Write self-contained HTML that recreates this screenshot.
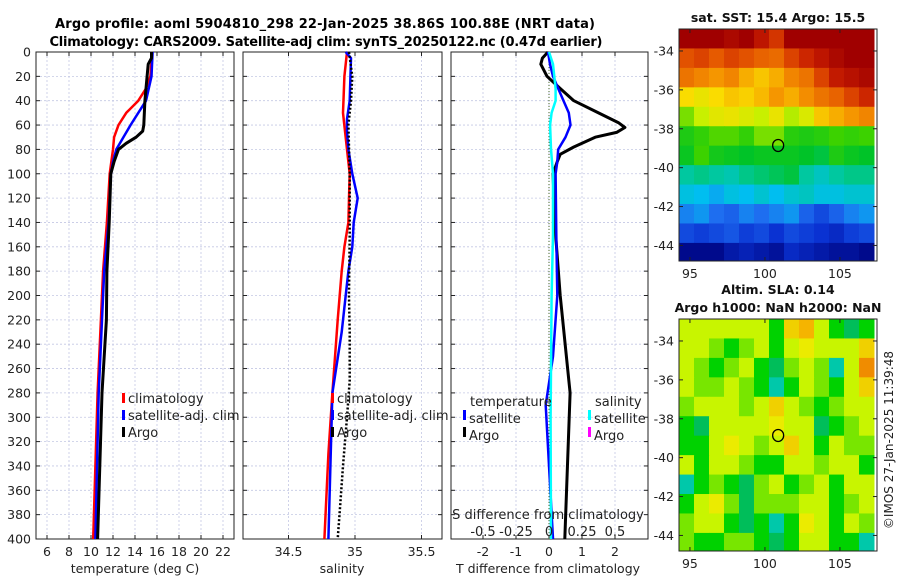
<!DOCTYPE html>
<html><head><meta charset="utf-8">
<style>
html,body{margin:0;padding:0;background:#fff;}
svg{display:block;font-family:"DejaVu Sans","Liberation Sans",sans-serif;}
</style></head>
<body>
<svg id="fig" width="900" height="580" viewBox="0 0 900 580" xmlns="http://www.w3.org/2000/svg">
<text x="325" y="28" text-anchor="middle" font-size="13" font-weight="bold" textLength="540">Argo profile: aoml 5904810_298 22-Jan-2025 38.86S 100.88E (NRT data)</text>
<text x="326" y="46" text-anchor="middle" font-size="13" font-weight="bold" textLength="553">Climatology: CARS2009. Satellite-adj clim: synTS_20250122.nc (0.47d earlier)</text>
<g id="layer"></g>
</svg>
<script>
// ---------- data ----------
const depthTicks = [0,20,40,60,80,100,120,140,160,180,200,220,240,260,280,300,320,340,360,380,400];
const tTicks = [6,8,10,12,14,16,18,20,22];
const sTicks = [34.5,35,35.5];
const dTTicks = [-2,-1,0,1,2];
const dSTickLabels = ["-0.5","-0.25","0","0.25","0.5"];
const dSTicks = [-0.5,-0.25,0,0.25,0.5];

const tClimDepth = [0,20,30,40,50,60,70,80,100,140,180,220,280,400];
const tClim      = [15.55,15.4,15.0,14.3,13.2,12.5,12.1,12.0,11.7,11.45,11.1,10.9,10.6,10.2];
const tSatDepth  = [0,20,40,60,80,90,100,140,180,220,280,400];
const tSat       = [15.6,15.5,15.0,13.6,12.3,12.0,11.8,11.6,11.2,11.0,10.7,10.4];
const tArgoDepth = [0,5,10,20,40,60,65,70,75,80,90,100,140,180,220,280,400];
const tArgo      = [15.5,15.5,15.2,15.1,14.9,14.8,14.7,14.1,13.2,12.5,12.1,11.8,11.65,11.45,11.4,11.0,10.6];

const sClimDepth = [0,20,50,80,100,120,140,160,180,220,280,330,400];
const sClim      = [34.94,34.92,34.91,34.94,34.96,34.955,34.95,34.92,34.90,34.87,34.83,34.80,34.77];
const sSatDepth  = [0,5,40,55,65,80,100,120,140,160,180,200,230,280,400];
const sSat       = [34.93,34.97,34.96,34.94,34.94,34.95,34.98,35.02,34.99,34.98,34.95,34.93,34.90,34.83,34.80];
const sArgoDepth = [0,20,40,60,100,150,200,230,270,300,340,370,400];
const sArgo      = [34.955,34.98,34.97,34.95,34.96,34.96,34.955,34.96,34.96,34.94,34.91,34.89,34.87];

const dTArgoDepth = [0,5,10,20,30,40,50,58,62,66,70,78,84,90,100,150,200,280,400];
const dTArgo      = [-0.03,-0.2,-0.25,-0.06,0.34,0.75,1.5,2.1,2.3,2.05,1.4,0.75,0.34,0.25,0.12,0.2,0.34,0.64,0.48];
const dTSatDepth  = [0,10,20,30,40,50,60,70,80,90,100,150,200,250,290,400];
const dTSat       = [-0.03,0.03,0.12,0.28,0.44,0.6,0.65,0.5,0.28,0.25,0.2,0.22,0.25,0.12,-0.1,0.12];
const dSSatDepth  = [0,10,30,40,50,60,80,100,150,200,300,400];
const dSSat       = [0.0,0.03,0.05,0.05,0.02,0.008,0.015,0.03,0.03,0.02,0.012,0.015];

// SST map (rows north->south, 1 deg each from -32.87; cols 1 deg from 94.27)
const sstRows = [
 [19,19,19,18.8,19,18.5,18,19,19,19,19,19,19],
 [17.6,17.8,17.5,17.8,17.6,17.4,17.3,17.8,18.2,18.5,18.8,19,19],
 [17.2,17,16.8,17,16.6,16.4,16.6,17,17.2,17.8,18.4,18.6,18.8],
 [16.2,16,16.2,16.4,16.3,16.5,16.8,16.6,16.9,17.2,17.4,17.8,18.2],
 [15.2,15.6,15.9,16,15.8,15.6,16,15.5,15.8,16.4,16.6,16.8,17],
 [14.6,14.8,15,15,14.8,15.2,15.2,14.7,14.6,14.7,14.9,14.8,14.9],
 [14.4,14.9,14.5,14.4,14.3,14.4,14.4,14.4,14.3,14.2,14.6,14.4,14.3],
 [13.8,13.9,13.8,13.7,13.9,14.0,14.1,14.2,13.8,13.6,13.8,13.9,13.9],
 [13.4,13.3,13.2,13.4,13.3,13.5,13.3,13.5,13.6,13.4,13.4,13.5,13.5],
 [13.0,13.1,12.9,12.8,13.0,12.9,13.0,13.1,12.8,12.6,12.8,13.0,13.1],
 [12.6,12.5,12.6,12.7,12.5,12.6,12.4,12.6,12.5,12.4,12.3,12.5,12.6],
 [11.9,11.9,11.9,12.1,12.2,12.1,12.0,12.3,12.2,12.1,12.0,12.0,11.9]
];
const slaRows = [
 [0.05,0.05,0.05,0.05,0.05,0.05,-0.05,0.15,0.2,0.05,-0.05,-0.1,-0.05],
 [0.05,0.05,0.0,-0.05,0.0,0.05,-0.05,0.05,0.1,0.05,0.05,0.05,0.15],
 [0.05,0.0,-0.05,0.0,0.05,-0.05,-0.1,0.0,0.05,0.0,-0.15,0.05,0.25],
 [0.05,0.0,0.0,0.05,0.0,-0.05,-0.15,-0.05,0.05,0.0,-0.05,0.05,0.15],
 [0.0,0.05,0.05,0.05,0.0,0.05,0.15,0.05,0.0,-0.05,0.0,0.05,0.05],
 [-0.05,-0.1,0.05,0.05,0.05,0.05,0.1,0.05,0.05,-0.1,-0.05,0.0,0.05],
 [-0.05,-0.05,0.05,0.1,0.05,0.0,0.05,0.15,0.05,-0.05,0.05,0.0,0.0],
 [0.05,-0.05,0.05,0.05,0.0,-0.05,-0.05,0.05,0.05,0.0,0.05,0.05,-0.05],
 [-0.15,-0.05,0.0,-0.05,-0.1,0.0,0.05,-0.05,0.0,0.05,-0.05,0.05,0.05],
 [-0.05,0.05,0.1,0.0,-0.1,0.0,0.0,0.0,0.05,0.05,-0.05,0.0,0.05],
 [0.0,0.05,0.05,-0.05,-0.1,-0.05,-0.15,-0.05,0.1,0.05,-0.05,0.05,0.0],
 [0.0,-0.05,-0.05,0.0,0.0,-0.05,-0.1,-0.05,0.05,0.05,-0.05,-0.05,-0.15]
];
const latTicks = [-34,-36,-38,-40,-42,-44];
const lonTicks = [95,100,105];
const argoLon = 100.88, argoLat = -38.86;

// ---------- drawing ----------
const NS='http://www.w3.org/2000/svg';
const L=document.getElementById('layer');
function mk(tag,attrs,parent){const e=document.createElementNS(NS,tag);for(const k in attrs)e.setAttribute(k,attrs[k]);(parent||L).appendChild(e);return e;}
function txt(x,y,s,size,anchor,parent){const t=mk('text',{x:x,y:y,'font-size':size,'text-anchor':anchor||'middle',fill:'#222'},parent);t.textContent=s;return t;}

const Y0=52,Y1=539;
const yD=d=>Y0+(d/400)*(Y1-Y0);
const xT=v=>47+(v-6)*11;
const xS=v=>355+(v-35)*133;
const xDT=v=>549+v*33;
const xDS=v=>549+v*132;

function panel(name,x0,x1,gridX){
  const g=mk('g',{});
  
  
  gridX.forEach(x=>mk('line',{x1:x,x2:x,y1:Y0,y2:Y1,stroke:'#c4c8e4','stroke-width':0.8,'stroke-dasharray':'2,2'},g));
  depthTicks.forEach(d=>{const y=yD(d);
    mk('line',{x1:x0,x2:x1,y1:y,y2:y,stroke:'#c4c8e4','stroke-width':0.8,'stroke-dasharray':'2,2'},g);
    mk('line',{x1:x0,x2:x0+4,y1:y,y2:y,stroke:'#222','stroke-width':1},g);
    mk('line',{x1:x1-4,x2:x1,y1:y,y2:y,stroke:'#222','stroke-width':1},g);});
  gridX.forEach(x=>{mk('line',{x1:x,x2:x,y1:Y0,y2:Y0+4,stroke:'#222'},g);mk('line',{x1:x,x2:x,y1:Y1-4,y2:Y1,stroke:'#222'},g);});
  mk('rect',{x:x0,y:Y0,width:x1-x0,height:Y1-Y0,fill:'none',stroke:'#222','stroke-width':1},g);
  return g;
}
function line(g,name,depths,vals,xf,color,w,dash){
  const pts=depths.map((d,i)=>xf(vals[i]).toFixed(1)+','+yD(d).toFixed(1)).join(' ');
  const p=mk('polyline',{points:pts,fill:'none',stroke:color,'stroke-width':w,'stroke-linejoin':'round'},g);
  if(dash)p.setAttribute('stroke-dasharray',dash);
  
  
}
depthTicks.forEach(d=>{txt(31,yD(d)+4.5,String(d),12.5,'end');});

// Panel 1
const p1=panel('temperature-panel',36,234,tTicks.map(xT));
tTicks.forEach(v=>txt(xT(v),556,String(v),12.5));
txt(135,573,'temperature (deg C)',12.5);
line(p1,'temp-climatology-line',tClimDepth,tClim,xT,'#ff0000',2.5);
line(p1,'temp-satellite-line',tSatDepth,tSat,xT,'#0000ff',2.5);
line(p1,'temp-argo-line',tArgoDepth,tArgo,xT,'#000000',3);
function legend(g,x,items){items.forEach((it,i)=>{const y=401+i*17;
  mk('rect',{x:x,y:y-8,width:3,height:10,fill:it[1]},g);
  const t=txt(x+6,y+2,it[0],13,'start',g);
  });}
legend(p1,122,[['climatology','#ff0000'],['satellite-adj. clim','#0000ff'],['Argo','#000']]);

// Panel 2
const p2=panel('salinity-panel',243,442,sTicks.map(xS));
sTicks.forEach(v=>txt(xS(v),556,String(v),12.5));
txt(342,573,'salinity',12.5);
line(p2,'sal-climatology-line',sClimDepth,sClim,xS,'#ff0000',2.5);
line(p2,'sal-satellite-line',sSatDepth,sSat,xS,'#0000ff',2.5);
line(p2,'sal-argo-line',sArgoDepth,sArgo,xS,'#000000',2.5,'2,2');
legend(p2,331,[['climatology','#ff0000'],['satellite-adj. clim','#0000ff'],['Argo','#000']]);

// Panel 3
const p3=panel('difference-panel',451,648,[-3,-2,-1,0,1,2,3].map(xDT).filter(x=>x>452&&x<647));
dTTicks.forEach(v=>txt(xDT(v),556,String(v),12.5));
txt(548,573,'T difference from climatology',12.5);
mk('line',{x1:xDT(0),x2:xDT(0),y1:Y0,y2:Y1,stroke:'#4a6a2a','stroke-width':1,'stroke-dasharray':'1,2'},p3);
line(p3,'dT-argo-line',dTArgoDepth,dTArgo,xDT,'#000000',3);
line(p3,'dT-satellite-line',dTSatDepth,dTSat,xDT,'#0000ff',2.5);
line(p3,'dS-satellite-line',dSSatDepth,dSSat,xDS,'#00ffff',2.5);
txt(470,406,'temperature',13,'start',p3);
txt(595,406,'salinity',13,'start',p3);
[['satellite','#0000ff',470],['Argo','#000',470],['satellite','#00ffff',595],['Argo','#ff00ff',595]].forEach((it,i)=>{
  const y=418+(i%2)*17;mk('rect',{x:it[2]-7,y:y-8,width:3,height:10,fill:it[1]},p3);
  const t=txt(it[2]-1,y+5,it[0],13,'start',p3);
  });
txt(548,519,'S difference from climatology',13,'middle',p3);
dSTicks.forEach((v,i)=>txt(xDS(v),536,dSTickLabels[i],13,'middle',p3));

// colour maps
function rgb(a){return 'rgb('+a.join(',')+')';}
function interp(stops,v){
  if(v<=stops[0][0])return rgb(stops[0][1]);
  for(let i=1;i<stops.length;i++){if(v<=stops[i][0]){const a=stops[i-1],b=stops[i];const f=(v-a[0])/(b[0]-a[0]);
    return rgb([0,1,2].map(k=>Math.round(a[1][k]+(b[1][k]-a[1][k])*f)));}}
  return rgb(stops[stops.length-1][1]);
}
const sstStops=[[11.9,[0,10,140]],[12.4,[10,50,210]],[12.9,[30,110,240]],[13.3,[0,190,240]],[13.8,[0,200,160]],[14.3,[0,195,40]],[14.9,[60,210,0]],[15.6,[200,240,0]],[16.2,[250,220,0]],[16.8,[245,150,0]],[17.5,[230,90,0]],[18.3,[200,30,0]],[19,[160,0,0]]];
const slaStops=[[-0.15,[0,200,170]],[-0.1,[0,190,90]],[-0.05,[0,210,0]],[0,[120,230,0]],[0.05,[200,245,0]],[0.1,[235,235,0]],[0.2,[245,180,0]],[0.25,[240,140,0]]];

function map(name,top,bot,rows,stops,labelLines){
  const x0=679,x1=877;
  const g=mk('g',{});
  
  
  const lonX=v=>x0+(v-94.27)*15;
  const latY=v=>top+(-32.87-v)*(bot-top)/(44.8-32.87);
  rows.forEach((row,r)=>row.forEach((v,c)=>{
    const xa=lonX(94.27+c),xb=Math.min(lonX(94.27+c+1),x1),ya=latY(-32.87-r),yb=Math.min(latY(-32.87-r-1),bot);
    const cell=mk('rect',{x:xa,y:ya,width:xb-xa+0.5,height:yb-ya+0.5,fill:interp(stops,v)},g);
    
    
  }));
  mk('rect',{x:x0,y:top,width:x1-x0,height:bot-top,fill:'none',stroke:'#222'},g);
  latTicks.forEach(v=>{const y=latY(v);mk('line',{x1:x0,x2:x0+4,y1:y,y2:y,stroke:'#222'},g);mk('line',{x1:x1-4,x2:x1,y1:y,y2:y,stroke:'#222'},g);txt(674,y+4.5,String(v),12.5,'end',g);});
  lonTicks.forEach(v=>{const x=lonX(v);mk('line',{x1:x,x2:x,y1:bot-4,y2:bot,stroke:'#222'},g);mk('line',{x1:x,x2:x,y1:top,y2:top+4,stroke:'#222'},g);txt(x,bot+17,String(v),12.5,'middle',g);});
  const c=mk('ellipse',{cx:lonX(argoLon),cy:latY(argoLat),rx:5.5,ry:6,fill:'none',stroke:'#000','stroke-width':1.3},g);
  
  
  labelLines.forEach(s=>{const t=mk('text',{x:778,y:s[1],'text-anchor':'middle','font-size':12.5,'font-weight':'bold',fill:'#111'},g);t.textContent=s[0];});
}
map('sst-map',29,261,sstRows,sstStops,[['sat. SST: 15.4 Argo: 15.5',22]]);
map('sla-map',319,551,slaRows,slaStops,[['Altim. SLA: 0.14',294],['Argo h1000: NaN h2000: NaN',312]]);
const cp=mk('text',{x:0,y:0,'font-size':12,'text-anchor':'middle',fill:'#222',transform:'translate(893,440) rotate(-90)'});
cp.textContent='©IMOS 27-Jan-2025 11:39:48';


</script>
</body></html>
